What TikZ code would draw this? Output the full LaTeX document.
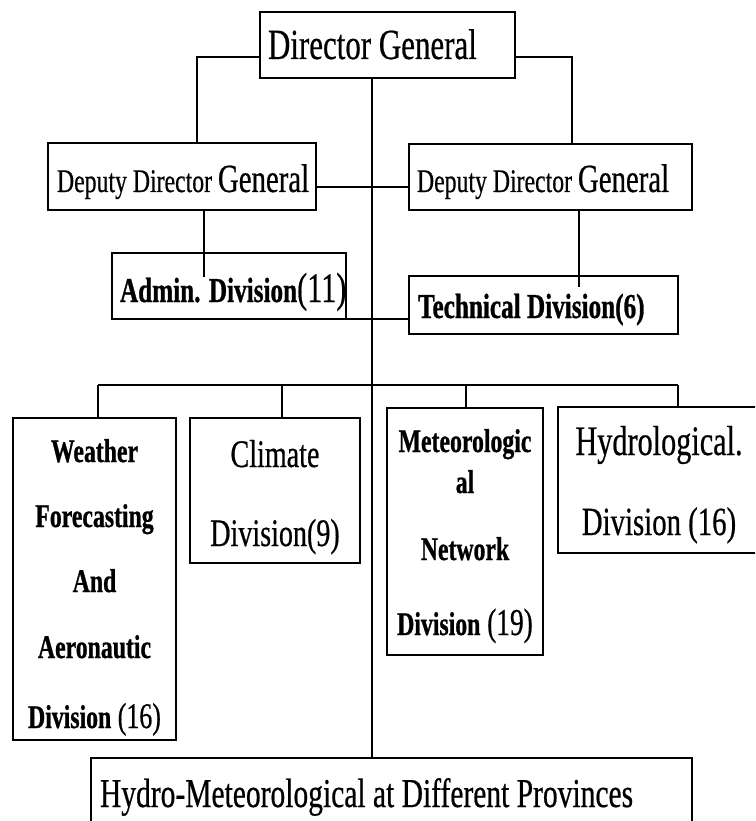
\documentclass[tikz,border=0pt]{standalone}
\usepackage{fontspec}
\setmainfont{Liberation Serif}[FakeStretch=0.72, UprightFeatures={FakeBold=0.5}, BoldFeatures={FakeBold=0.8}]
\newcommand{\fs}[1]{\fontsize{#1}{#1}\selectfont}
\begin{document}
\begin{tikzpicture}[x=1pt,y=-1pt,
  box/.style={draw=black, line width=1.8pt, rectangle, inner sep=0pt, outer sep=0pt, anchor=north west},
  conn/.style={draw=black, line width=1.3pt},
  txt/.style={inner sep=0pt, outer sep=0pt, text=black}]
\useasboundingbox (0,0) rectangle (755,821);
\clip (0,0) rectangle (755,821);
% boxes
\node[box, minimum width=255pt, minimum height=66pt] (dg) at (260,12) {};
\node[box, minimum width=268pt, minimum height=67pt] (ddgl) at (48,143) {};
\node[box, minimum width=283pt, minimum height=66pt] (ddgr) at (409,144) {};
\node[box, minimum width=234pt, minimum height=66pt] (adm) at (112,253) {};
\node[box, minimum width=269pt, minimum height=58pt] (tech) at (409,276) {};
\node[box, minimum width=163pt, minimum height=322pt] (wea) at (13,418) {};
\node[box, minimum width=170pt, minimum height=145pt] (cli) at (190,418) {};
\node[box, minimum width=156pt, minimum height=247pt] (met) at (387,408) {};
\node[box, minimum width=200pt, minimum height=146pt] (hyd) at (558,407) {};
\node[box, minimum width=601pt, minimum height=80pt] (hm) at (91,758) {};
% texts
\node[txt, anchor=base west] (tdg) at (268,59) {\fs{43}Director General};
\node[txt, anchor=base west] (tddgl) at (57,192) {\fs{33}Deputy Director {\fs{40}General}};
\node[txt, anchor=base west] (tddgr) at (417,192) {\fs{33}Deputy Director {\fs{40}General}};
\node[txt, anchor=base west] (tadm) at (120,302) {\fs{35}\bfseries Admin. Division{\mdseries\fs{42}(11)}};
\node[txt, anchor=base west] (ttech) at (418,318) {\fs{35}\bfseries Technical Division(6)};
\node[txt, anchor=base] (w1) at (94.5,462) {\fs{33}\bfseries Weather};
\node[txt, anchor=base] (w2) at (94.5,527) {\fs{33}\bfseries Forecasting};
\node[txt, anchor=base] (w3) at (94.5,592) {\fs{33}\bfseries And};
\node[txt, anchor=base] (w4) at (94.5,658) {\fs{33}\bfseries Aeronautic};
\node[txt, anchor=base] (w5) at (94.5,728) {\fs{33}\bfseries Division{\mdseries\fs{36} (16)}};
\node[txt, anchor=base] (c1) at (275,467) {\fs{39}Climate};
\node[txt, anchor=base] (c2) at (275,546) {\fs{39}Division(9)};
\node[txt, anchor=base] (m1) at (465,452) {\fs{33}\bfseries Meteorologic};
\node[txt, anchor=base] (m2) at (465,493) {\fs{33}\bfseries al};
\node[txt, anchor=base] (m3) at (465,560) {\fs{33}\bfseries Network};
\node[txt, anchor=base] (m4) at (465,635) {\fs{33}\bfseries Division{\mdseries\fs{38} (19)}};
\node[txt, anchor=base] (h1) at (659,455) {\fs{42}Hydrological.};
\node[txt, anchor=base] (h2) at (659,535) {\fs{40}Division (16)};
\node[txt, anchor=base west] (thm) at (100,807) {\fs{41}Hydro-Meteorological at Different Provinces};
% named coordinates
\coordinate (dgL) at (260,57);
\coordinate (dgR) at (515,57);
% connectors
\draw[conn] (dgL) -- (197,57) -- (ddgl.north -| 197,0);
\draw[conn] (dgR) -- (572,57) -- (ddgr.north -| 572,0);
\draw[conn] (dg.south -| 372,0) -- (hm.north -| 372,0);
\draw[conn] (ddgl.east |- 0,187) -- (ddgr.west |- 0,187);
\draw[conn] (ddgl.south -| 204,0) -- (204,277);
\draw[conn] (ddgr.south -| 579,0) -- (579,287);
\draw[conn] (adm.south east) -- (tech.west |- adm.south east);
\draw[conn] (98,385) -- (678,385);
\draw[conn] (98,385) -- (wea.north -| 98,0);
\draw[conn] (282,385) -- (cli.north -| 282,0);
\draw[conn] (466,385) -- (met.north -| 466,0);
\draw[conn] (678,385) -- (hyd.north -| 678,0);
\end{tikzpicture}
\end{document}
